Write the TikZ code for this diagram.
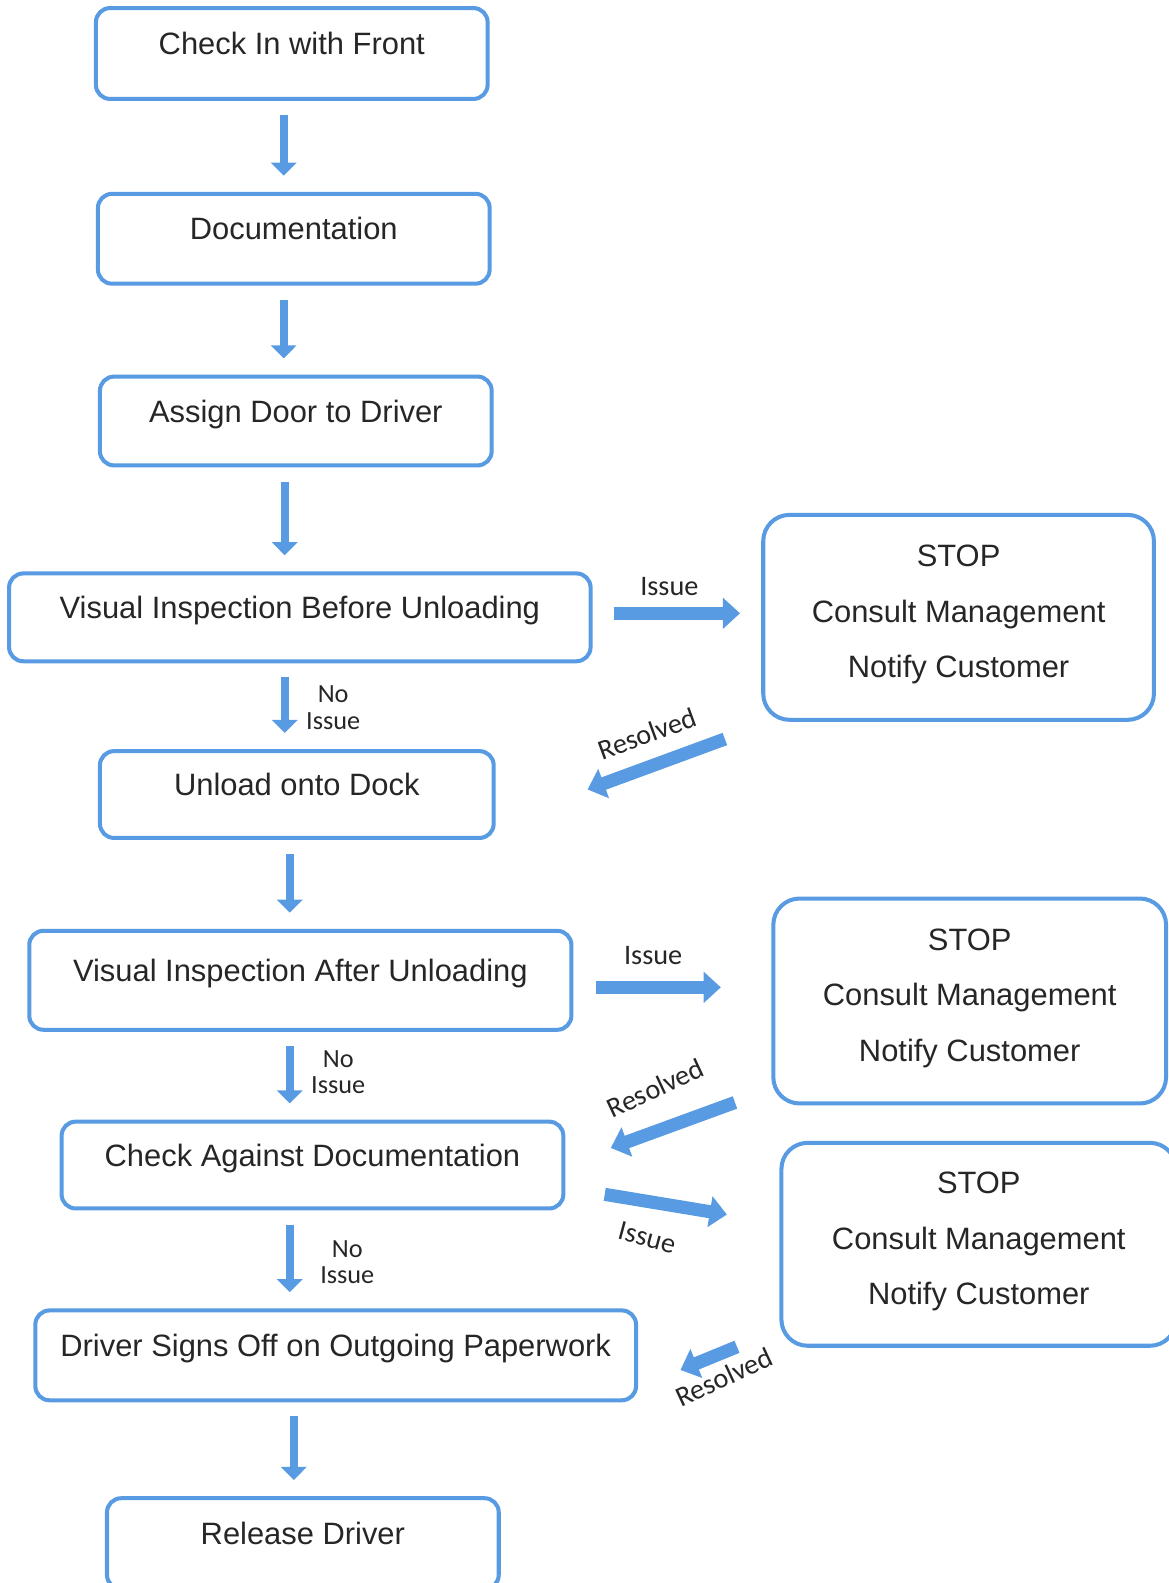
\documentclass[tikz,border=0pt]{standalone}
\usepackage{fontspec}
\setmainfont{Liberation Sans}
\newfontfamily\labelfont{Carlito}
\usetikzlibrary{arrows.meta}
\definecolor{flowblue}{RGB}{88,155,226}
\definecolor{ink}{RGB}{38,38,38}

\begin{document}
\begin{tikzpicture}[x=0.5pt,y=-0.5pt]
        \tikzstyle{box} = [draw=flowblue,line width=2pt,rounded corners=7pt,text=ink,inner sep=0pt,font=\fontsize{15.3}{18}\selectfont,text depth=10pt]
        \tikzstyle{stopbox} = [box,align=center,rounded corners=13pt,font=\fontsize{15.3}{27.5}\selectfont,text depth=6pt]
        \tikzstyle{down} = [draw=flowblue,line width=4pt,-{Triangle[width=12.5pt,length=6.5pt]},shorten <=7pt,shorten >=8pt]
        \tikzstyle{fat} = [draw=flowblue,line width=6.5pt,-{Triangle[width=15pt,length=8.5pt]}]
        \tikzstyle{lbl} = [text=ink,inner sep=0pt,font=\labelfont\fontsize{14}{14}\selectfont]
        \tikzstyle{small} = [lbl,align=center,font=\labelfont\fontsize{13}{13}\selectfont]

        \useasboundingbox (0,0) rectangle (1157,1568);

        \node[box,minimum width=194pt,minimum height=45pt] (checkin) at (289,53) {Check In with Front};
        \node[box,minimum width=194pt,minimum height=44.5pt] (docs) at (291,236.5) {Documentation};
        \node[box,minimum width=194pt,minimum height=44pt] (assign) at (293,417) {Assign Door to Driver};
        \node[box,minimum width=288pt,minimum height=43.5pt] (visbefore) at (297,611.5) {Visual Inspection Before Unloading};
        \node[box,minimum width=195pt,minimum height=43pt] (unload) at (294,787) {Unload onto Dock};
        \node[box,minimum width=268.5pt,minimum height=49pt] (visafter) at (297.5,971) {Visual Inspection After Unloading};
        \node[box,minimum width=248.5pt,minimum height=43pt] (checkdoc) at (309.5,1154) {Check Against Documentation};
        \node[box,minimum width=297.5pt,minimum height=44.5pt] (signoff) at (332.5,1342.5) {Driver Signs Off on Outgoing Paperwork};
        \node[box,minimum width=194pt,minimum height=45pt] (release) at (300,1529) {Release Driver};

        \node[stopbox,minimum width=193.5pt,minimum height=101.5pt] (stopA) at (949.5,611.5) {STOP\\Consult Management\\Notify Customer};
        \node[stopbox,minimum width=194.5pt,minimum height=101.5pt] (stopB) at (960.5,991.5) {STOP\\Consult Management\\Notify Customer};
        \node[stopbox,minimum width=195.5pt,minimum height=100.5pt] (stopC) at (969.5,1232.5) {STOP\\Consult Management\\Notify Customer};


        % main line
        \foreach \a/\b/\x in {checkin/docs/281,docs/assign/281,assign/visbefore/282,visbefore/unload/282,unload/visafter/287,visafter/checkdoc/287,checkdoc/signoff/287,signoff/release/291}
            \draw[down] (\a.south -| \x,0) -- (\b.north -| \x,0);

        \node[small] (noissueA) at (330,701) {No\\Issue};
        \node[small] (noissueB) at (335,1062) {No\\Issue};
        \node[small] (noissueC) at (344,1250) {No\\Issue};


        % issues and returns
        \draw[fat] ([shift={(21,-4)}]visbefore.east) -- ([shift={(-21,-4)}]stopA.west);
        \draw[fat] ([shift={(-36,17)}]stopA.south west) -- ([shift={(91,-5)}]unload.east);
        \draw[fat] ([shift={(22,7)}]visafter.east) -- ([shift={(-50,-13.5)}]stopB.west);
        \draw[fat] ([shift={(-36,-3)}]stopB.south west) -- ([shift={(45,-17)}]checkdoc.east);
        \draw[fat] ([shift={(39,29)}]checkdoc.east) -- ([shift={(-52,-29.5)}]stopC.west);
        \draw[fat] ([shift={(-42,-1)}]stopC.south west) -- ([shift={(42,14.5)}]signoff.east);

        \node[lbl] (issueA) at (663,581) {Issue};
        \node[lbl,rotate=20] (resolvedA) at (641,727) {Resolved};
        \node[lbl] (issueB) at (647,946) {Issue};
        \node[lbl,rotate=25] (resolvedB) at (649,1078) {Resolved};
        \node[lbl,rotate=-15] (issueC) at (641,1226) {Issue};
        \node[lbl,rotate=25] (resolvedC) at (717,1364) {Resolved};

    \end{tikzpicture}
\end{document}
